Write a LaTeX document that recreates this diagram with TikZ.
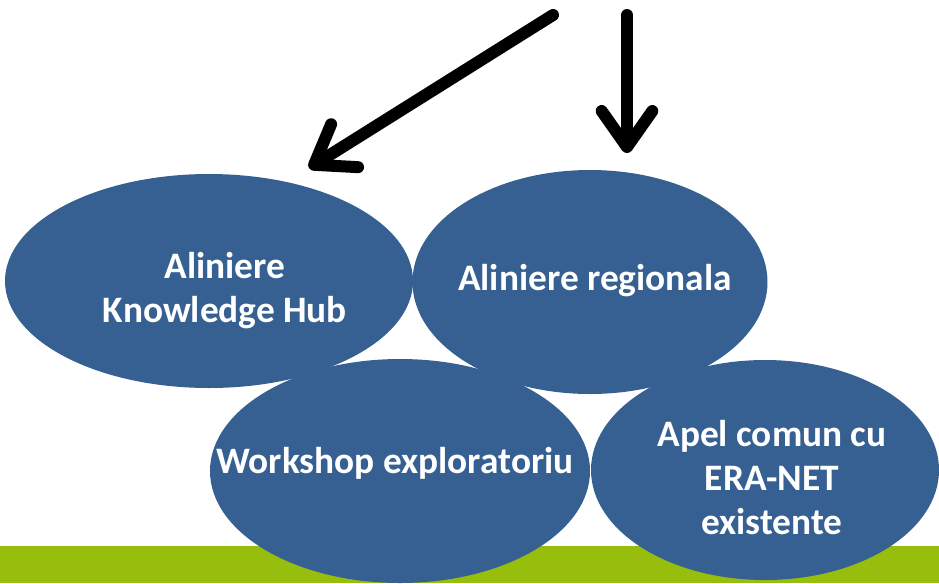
\documentclass[tikz,border=0pt]{standalone}
\usepackage{fontspec}
\setmainfont{Carlito}
\usetikzlibrary{positioning,shapes.geometric,arrows.meta}
\tikzstyle{slide} = [x = .75pt, y = -.75pt]
\definecolor{bubbleColor}{RGB}{54,96,145}
\definecolor{barColor}{RGB}{151,189,13}
\newcommand{\pxs}{.75pt}
\tikzstyle{bubbleStyle} = [ellipse, fill=bubbleColor, inner sep=0, draw=none]
\tikzstyle{bubbleText} = [text=white, align=center, inner sep=0, font=\bfseries\fontsize{28}{33}\selectfont]
\tikzstyle{bigArrow} = [line width=9pt, line cap=round, -{Straight Barb[length=27pt, width=38pt, round]}]
\newcommand{\bubble}[5]{\node [bubbleStyle, minimum width=#4*\pxs, minimum height=#5*\pxs] (#1) at (#2,#3) {};}

\begin{document}
\begin{tikzpicture}[slide]
  \useasboundingbox (0,0) rectangle (939,583);
  \fill [barColor] (0,546) rectangle (939,583);

  \bubble{hub}{209}{281}{408}{214}
  \bubble{regional}{590}{282}{355}{224}
  \bubble{workshop}{400}{471}{380}{224}
  \bubble{apel}{765}{470}{348}{220}

  \node [bubbleText] (hubText) at (225,291) {Aliniere\\Knowledge Hub};
  \node [bubbleText] (regionalText) at (595,281) {Aliniere regionala};
  \node [bubbleText] (workshopText) at (395,463) {Workshop exploratoriu};
  \node [bubbleText] (apelText) at (772,478) {Apel comun cu\\ERA-NET\\existente};

  \coordinate (leftStart) at (553,15);
  \coordinate (leftEnd) at (309,168);
  \coordinate (downStart) at (627,15);
  \coordinate (downEnd) at (627,153);
  \draw [bigArrow] (leftStart) -- (leftEnd);
  \draw [bigArrow] (downStart) -- (downEnd);
\end{tikzpicture}
\end{document}
